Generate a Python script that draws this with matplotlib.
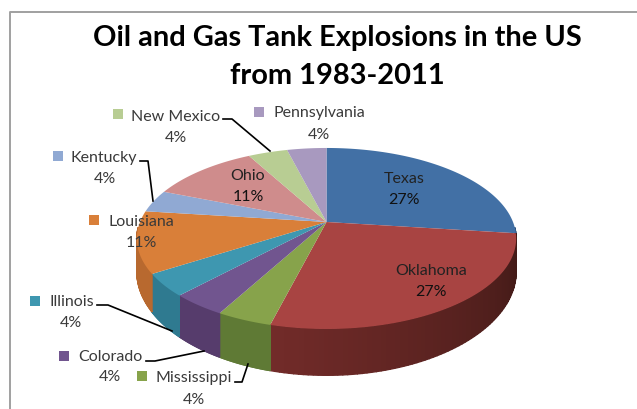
import matplotlib
matplotlib.use("Agg")
import matplotlib.pyplot as plt
import numpy as np

plt.rcParams['font.family'] = ['Lato', 'DejaVu Sans']

# slices, clockwise from the top
states = ["Texas", "Oklahoma", "Mississippi", "Colorado", "Illinois",
          "Louisiana", "Kentucky", "Ohio", "New Mexico", "Pennsylvania"]
shares = [27, 27, 4, 4, 4, 11, 4, 11, 4, 4]
top_colors = ["#4270A5", "#A84442", "#87A34B", "#71558F", "#3E97B0",
              "#D97F39", "#90A9D3", "#CF8C8C", "#B8CD93", "#A899BF"]
side_colors = ["#2F5078", "#5E2522", "#5F7A35", "#563C6C", "#2F7A90",
               "#B8692F", "#6C80A0", "#9C6A6A", "#8A9A6E", "#7F7390"]

# pie geometry in pixels
cx, cy = 326.5, 223
rx, ry = 186.5, 87.5
persp = 0.182
wall = 31


def project(theta):
    # theta is measured clockwise from the top of the pie
    x = np.sin(theta)
    y = np.cos(theta)
    w = 1 + persp * y
    return cx + rx * x / w, cy - ry * y / w, wall / w ** 2


fig = plt.figure(figsize=(6.37, 4.10), dpi=100)
ax = fig.add_axes([0, 0, 1, 1])
ax.set_xlim(0, 637)
ax.set_ylim(410, 0)
ax.axis("off")

# frame of the original chart
ax.plot([10, 10, 637], [410, 12.5, 12.5], color="#A0A0A0", lw=1.4)

edges = np.cumsum([0] + shares) / sum(shares) * 2 * np.pi

# side wall, only the part facing the viewer
for i, state in enumerate(states):
    t = np.linspace(edges[i], edges[i + 1], 80)
    for a, b, f in zip(t[:-1], t[1:], np.linspace(0, 1, 79)):
        if np.cos((a + b) / 2) > -0.06:
            continue
        xa, ya, da = project(a)
        xb, yb, db = project(b)
        color = side_colors[i]
        if state == "Oklahoma":
            # dark on the right, lighter towards the front left
            color = np.array([0x3F, 0x19, 0x16]) * (1 - f) + np.array([0x72, 0x2B, 0x29]) * f
            color = color / 255
        ax.fill([xa, xb, xb, xa], [ya, yb, yb + db, ya + da], color=color, lw=1.0, zorder=2)

# top of the pie
for i, state in enumerate(states):
    t = np.linspace(edges[i], edges[i + 1], 80)
    xs, ys, _ = project(t)
    ax.fill(np.r_[cx, xs], np.r_[cy, ys], color=top_colors[i], lw=0, zorder=3)

# leader lines
leaders = [
    ([223, 232, 270], [120, 120, 152]),
    ([140, 148, 153], [162, 162, 202]),
    ([97, 108, 172], [306, 306, 332]),
    ([146, 155, 204], [362, 362, 352]),
    ([235, 242, 248], [383, 383, 365]),
]
for lx, ly in leaders:
    ax.plot(lx, ly, color="black", lw=1.2, zorder=4)

# label text and the anchor of its centre, with the legend key position
labels = [
    ("Texas", 404, 179, None, None),
    ("Oklahoma", 431, 271, None, None),
    ("Mississippi", 194, 378, 142, 377),
    ("Colorado", 110, 357, 64, 357),
    ("Illinois", 72, 302, 35, 302),
    ("Louisiana", 141, 222, 94, 221),
    ("Kentucky", 104, 158, 58, 157),
    ("Ohio", 248, 176, None, None),
    ("New Mexico", 176, 117, 118, 115),
    ("Pennsylvania", 319, 113, 259, 113),
]
percent_pos = [(404, 200), (431, 292), (194, 400), (110, 377), (71, 323),
               (141, 243), (105, 179), (248, 197), (176, 138), (319, 135)]
for i, (name, tx, ty, kx, ky) in enumerate(labels):
    ax.text(tx, ty, name, ha="center", va="center", fontsize=11.5,
            color="#3A3A3A" if kx else "#222222", zorder=5)
    ax.text(percent_pos[i][0], percent_pos[i][1], f"{shares[i]}%", ha="center", va="center",
            fontsize=11.5, color="#3A3A3A" if kx else "#111111", zorder=5)
    if kx:
        ax.fill([kx - 5, kx + 5, kx + 5, kx - 5], [ky - 5, ky - 5, ky + 5, ky + 5],
                color=top_colors[i], lw=0, zorder=5)

ax.text(337, 38, "Oil and Gas Tank Explosions in the US", ha="center", va="center",
        fontsize=20.9, fontweight="bold", color="black")
ax.text(337, 76, "from 1983-2011", ha="center", va="center",
        fontsize=20.9, fontweight="bold", color="black")

fig.savefig("out.png", dpi=100)
